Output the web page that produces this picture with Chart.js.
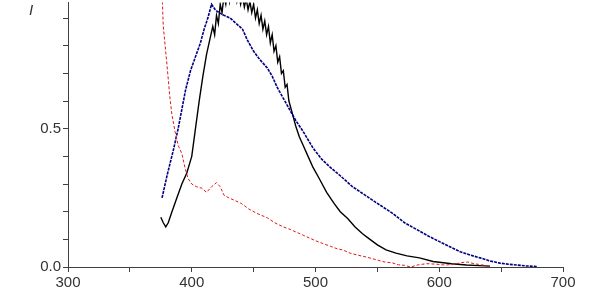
<!DOCTYPE html>
<html>
<head>
<meta charset="utf-8">
<script src="https://cdn.jsdelivr.net/npm/chart.js@4"></script>
<style>
  html, body { margin: 0; padding: 0; background: #fff; }
  #wrap { width: 600px; height: 300px; }
</style>
</head>
<body>
<div id="wrap"><canvas id="spectra"></canvas></div>
<script>
// wavelength (nm) and intensity
const blackX = [375, 377, 379, 381, 384, 388, 392, 396, 400, 403, 406, 409, 412, 415, 417, 418.5, 420, 421.5, 423, 424.5, 426, 427.5, 429, 430.5, 432, 433.5, 435, 436.5, 438, 439.5, 441, 442.5, 444, 445.5, 447, 448.5, 450, 451.5, 453, 454.5, 456, 457.5, 459, 460.5, 462, 463.5, 465, 466.5, 468, 469.5, 471, 472.5, 474, 475.5, 477, 478.5, 481, 484, 487, 490, 494, 498, 503, 509, 515, 520, 526, 532, 538, 544, 550, 557, 565, 574, 584, 595, 610, 622, 632, 641];
const blackY = [0.18, 0.16, 0.145, 0.16, 0.2, 0.25, 0.3, 0.34, 0.4, 0.5, 0.6, 0.69, 0.77, 0.83, 0.87, 0.84, 0.91, 0.88, 0.95, 0.92, 0.98, 0.95, 1.0, 0.96, 1.01, 0.97, 1.0, 0.96, 0.99, 0.95, 0.98, 0.94, 0.97, 0.93, 0.96, 0.92, 0.95, 0.9, 0.93, 0.88, 0.91, 0.86, 0.89, 0.84, 0.87, 0.81, 0.84, 0.78, 0.8, 0.74, 0.76, 0.7, 0.71, 0.65, 0.66, 0.6, 0.56, 0.51, 0.47, 0.44, 0.4, 0.36, 0.32, 0.27, 0.23, 0.2, 0.175, 0.145, 0.12, 0.1, 0.08, 0.062, 0.05, 0.04, 0.033, 0.02, 0.012, 0.007, 0.005, 0.003];

const blueX = [376, 380, 385, 389, 392, 395, 399, 403, 407, 410, 413, 416, 419, 422, 426, 431, 436, 441, 445, 450, 455, 461, 465, 469, 474, 479, 484, 490, 498, 505, 512, 520, 530, 540, 550, 562, 572, 582, 592, 601, 610, 617, 625, 633, 641, 649, 656, 663, 670, 679];
const blueY = [0.25, 0.33, 0.42, 0.5, 0.57, 0.64, 0.71, 0.76, 0.81, 0.86, 0.9, 0.95, 0.93, 0.92, 0.91, 0.9, 0.88, 0.86, 0.82, 0.78, 0.75, 0.72, 0.69, 0.65, 0.61, 0.57, 0.53, 0.49, 0.43, 0.39, 0.36, 0.33, 0.29, 0.26, 0.23, 0.195, 0.16, 0.135, 0.11, 0.09, 0.07, 0.055, 0.043, 0.033, 0.022, 0.014, 0.01, 0.007, 0.004, 0.002];

const redX = [375.5, 377, 380, 382.4, 384, 386.5, 389, 392, 394.5, 397, 400, 404, 408, 412, 416, 420, 423, 426, 430, 435, 440, 446, 452, 461, 467, 474, 480, 485, 490, 495, 500, 506, 512, 518, 522, 528, 535, 542, 550, 556, 562, 567, 572, 577, 583, 590, 598, 605, 612, 618, 623, 628, 634, 641];
const redY = [1.05, 0.87, 0.73, 0.61, 0.55, 0.49, 0.44, 0.41, 0.36, 0.32, 0.3, 0.29, 0.285, 0.27, 0.29, 0.305, 0.29, 0.26, 0.25, 0.24, 0.23, 0.21, 0.195, 0.178, 0.16, 0.145, 0.135, 0.125, 0.115, 0.105, 0.095, 0.085, 0.075, 0.065, 0.062, 0.05, 0.042, 0.035, 0.025, 0.018, 0.015, 0.008, 0.006, 0.0, 0.008, 0.012, 0.01, 0.007, 0.01, 0.016, 0.018, 0.012, 0.008, 0.003];

const xLabels = [300, 400, 500, 600, 700];
const yLabels = [0, 0.5];

function pts(xs, ys) {
  return xs.map((x, i) => ({ x: x, y: ys[i] }));
}

const axisColor = '#404040';
const tickFont = { family: '"Liberation Sans", Arial, sans-serif', size: 15 };
const hasYLabel = v => yLabels.some(l => Math.abs(l - v) < 1e-6);

// italic "I" in the top-left corner
const axisTitle = {
  id: 'axisTitle',
  afterDraw(chart) {
    const ctx = chart.ctx;
    ctx.save();
    ctx.fillStyle = '#333';
    ctx.font = 'italic 15px "Liberation Sans", Arial, sans-serif';
    ctx.textAlign = 'center';
    ctx.textBaseline = 'middle';
    ctx.fillText('I', 31, 11);
    ctx.restore();
  }
};

new Chart(document.getElementById('spectra'), {
  type: 'scatter',
  data: {
    datasets: [
      {
        label: 'red',
        data: pts(redX, redY),
        showLine: true,
        borderColor: '#e01818',
        borderWidth: 1,
        borderDash: [3, 2],
        pointRadius: 0
      },
      {
        label: 'blue',
        data: pts(blueX, blueY),
        showLine: true,
        borderColor: '#000080',
        borderWidth: 1.6,
        borderDash: [3, 1],
        pointRadius: 0
      },
      {
        label: 'black',
        data: pts(blackX, blackY),
        showLine: true,
        borderColor: '#000000',
        borderWidth: 1.4,
        pointRadius: 0
      }
    ]
  },
  options: {
    responsive: true,
    maintainAspectRatio: false,
    animation: false,
    layout: { padding: { left: 0, right: 37, top: 0, bottom: 0 } },
    plugins: {
      legend: { display: false },
      tooltip: { enabled: false }
    },
    scales: {
      x: {
        type: 'linear',
        min: 300,
        max: 700,
        ticks: {
          stepSize: 50,
          color: '#333',
          font: tickFont,
          padding: 2,
          maxRotation: 0,
          callback: v => xLabels.includes(v) ? String(v) : ''
        },
        grid: { drawOnChartArea: false, drawTicks: true, tickLength: 5, color: axisColor },
        border: { color: axisColor, width: 1 },
        afterFit: s => { s.height = 33; }
      },
      y: {
        min: 0,
        max: 0.956,
        afterBuildTicks: s => {
          s.ticks = s.ticks.filter(t => Math.abs(t.value * 10 - Math.round(t.value * 10)) < 1e-6);
        },
        ticks: {
          stepSize: 0.1,
          color: '#333',
          // unlabelled ticks get a tiny font so they add no padding at the top
          font: c => (c.tick && hasYLabel(c.tick.value)) ? tickFont : { family: tickFont.family, size: 1 },
          padding: 2,
          callback: v => hasYLabel(v) ? v.toFixed(1) : ''
        },
        grid: { drawOnChartArea: false, drawTicks: true, tickLength: 5, color: axisColor },
        border: { color: axisColor, width: 1 },
        afterFit: s => { s.width = 68; }
      }
    }
  },
  plugins: [axisTitle]
});
</script>
</body>
</html>
